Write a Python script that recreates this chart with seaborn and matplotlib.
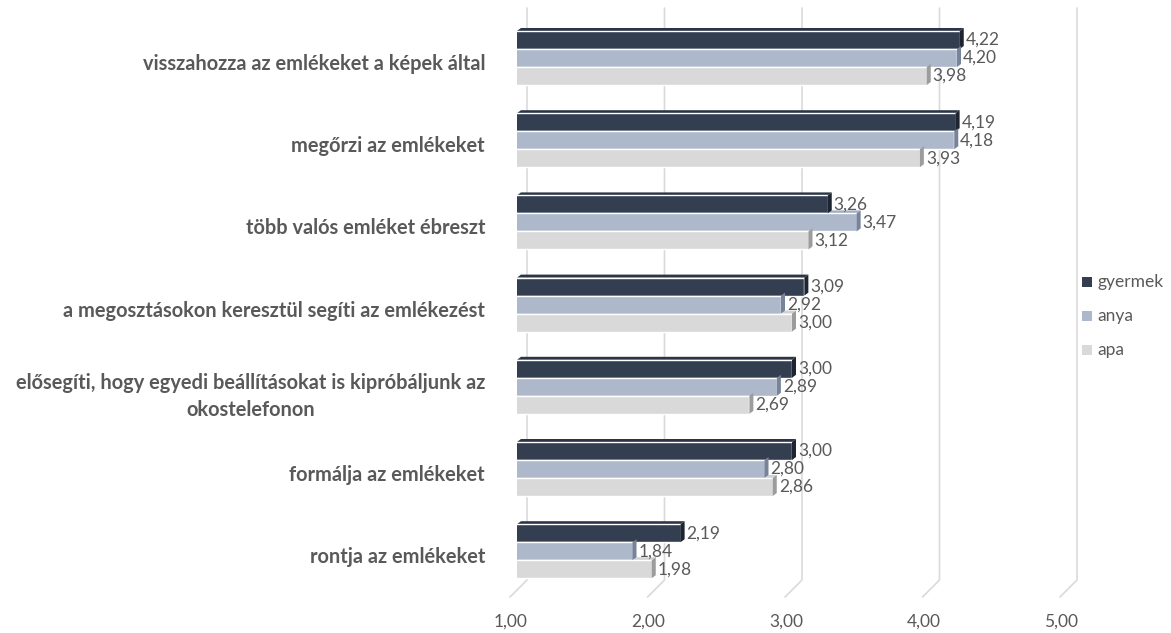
"""
Grouped horizontal bars (3D look) - memory survey, gyermek / anya / apa
"""

import pandas as pd
import matplotlib.pyplot as plt
import matplotlib.transforms as mtransforms
from matplotlib.patches import Polygon
import seaborn as sns

# data
items = [
    "visszahozza az emlékeket a képek által",
    "megőrzi az emlékeket",
    "több valós emléket ébreszt",
    "a megosztásokon keresztül segíti az emlékezést",
    "elősegíti, hogy egyedi beállításokat is kipróbáljunk az\nokostelefonon",
    "formálja az emlékeket",
    "rontja az emlékeket",
]
groups = ["gyermek", "anya", "apa"]
gyermek = [4.22, 4.19, 3.26, 3.09, 3.00, 3.00, 2.19]
anya = [4.20, 4.18, 3.47, 2.92, 2.89, 2.80, 1.84]
apa = [3.98, 3.93, 3.12, 3.00, 2.69, 2.86, 1.98]
x_ticks = [1, 2, 3, 4, 5]

colors = ["#333F50", "#ADB9CA", "#D9D9D9"]
side_colors = ["#1E2530", "#77839A", "#9C9C9C"]
top_colors = ["#2B3545", "#A3AFC0", "#D2D2D2"]
text_gray = "#595959"
grid_gray = "#DADADA"

W, H = 1171, 633
PX = 137.5  # pixels per unit on the value axis


def build_frame():
    rows = []
    for name, vals in zip(groups, [gyermek, anya, apa]):
        for item, v in zip(items, vals):
            rows.append({"item": item, "group": name, "value": v})
    return pd.DataFrame(rows)


def main():
    df = build_frame()

    sns.set_style("white")
    plt.rcParams["font.family"] = ["Lato", "DejaVu Sans"]

    fig = plt.figure(figsize=(W / 100, H / 100), dpi=100)
    ax = fig.add_axes([517 / W, (H - 597) / H, 550 / W, 589 / H])

    sns.barplot(
        data=df, x="value", y="item", hue="group", orient="h",
        palette=colors, saturation=1, width=0.657, ax=ax,
        legend=False, zorder=3,
    )

    # category pixel rows: centre of group k at 58 + 82.2 k
    def ky(py):
        return (py - 58) / 82.2

    ax.set_xlim(1, 5)
    ax.set_ylim(ky(597), ky(8))

    # back wall + floor grid lines
    dxb, dxf = 10 / PX, -7 / PX
    for v in x_ticks:
        ax.plot([v + dxb, v + dxb, v + dxf], [ky(8), ky(580), ky(597)],
                color=grid_gray, lw=1.2, zorder=0, clip_on=False)
        ax.text(v - 6 / PX, ky(622), f"{v:.2f}".replace(".", ","),
                ha="center", va="center", fontsize=12.5, color=text_gray)

    # 3D faces + value labels
    dpx, dpy = 4 / PX, -3 / 82.2
    for ci, cont in enumerate(ax.containers):
        vals = [gyermek, anya, apa][ci]
        for bar, v in zip(cont.patches, vals):
            y0 = bar.get_y()
            y1 = y0 + bar.get_height()
            x1 = bar.get_x() + bar.get_width()
            side = Polygon([(x1, y0), (x1 + dpx, y0 + dpy), (x1 + dpx, y1 + dpy), (x1, y1)],
                           closed=True, fc=side_colors[ci], ec="none", zorder=4)
            top = Polygon([(1, y0), (1 + dpx, y0 + dpy), (x1 + dpx, y0 + dpy), (x1, y0)],
                          closed=True, fc=top_colors[ci], ec="none", zorder=2)
            ax.add_patch(side)
            ax.add_patch(top)
            ax.text(x1 + 6 / PX, (y0 + y1) / 2, f"{v:.2f}".replace(".", ","),
                    ha="left", va="center", fontsize=12.5, color=text_gray, zorder=5)

    # axes cosmetics
    sns.despine(ax=ax, left=True, bottom=True)
    ax.set_xlabel("")
    ax.set_ylabel("")
    ax.set_xticks([])
    ax.tick_params(axis="y", length=0, pad=23)
    shift = mtransforms.ScaledTranslation(0, -4 / 100, fig.dpi_scale_trans)
    for lbl in ax.get_yticklabels():
        lbl.set_fontweight("bold")
        lbl.set_fontsize(14.4)
        lbl.set_color(text_gray)
        lbl.set_multialignment("center")
        lbl.set_linespacing(1.45)
        lbl.set_transform(lbl.get_transform() + shift)

    # legend
    for i, (name, c) in enumerate(zip(groups, colors)):
        yy = 1 - (282 + 34 * i) / H
        fig.patches.append(plt.Rectangle((1082 / W, yy - 5 / H), 10 / W, 10 / H,
                                         transform=fig.transFigure, fc=c, ec="none"))
        fig.text(1097 / W, yy, name, ha="left", va="center",
                 fontsize=12.5, color=text_gray)

    fig.savefig("out.png", dpi=100)
    plt.close(fig)


if __name__ == "__main__":
    main()
